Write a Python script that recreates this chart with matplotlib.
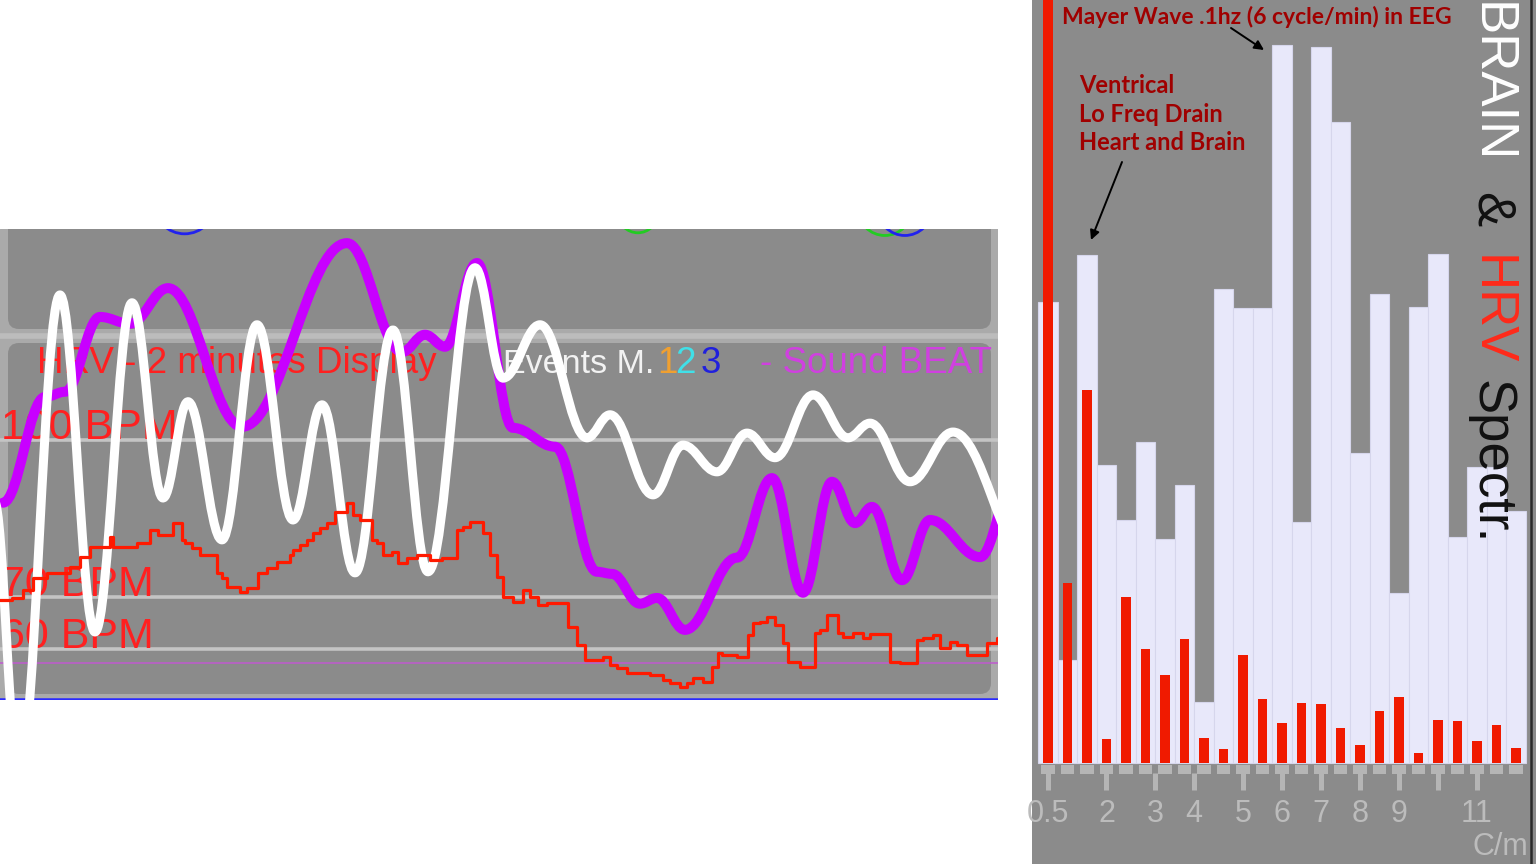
import numpy as np
import matplotlib
matplotlib.use("Agg")
import matplotlib.pyplot as plt
from matplotlib.path import Path
from matplotlib.patches import PathPatch, FancyBboxPatch, Rectangle

plt.rcParams['font.family'] = ['Liberation Sans', 'DejaVu Sans']

# ---------------- HRV panel (time in s over 2 minutes, values in BPM) ----------------
# heart rate staircase (value starts at each time)
hr_t = [0, 1.44, 2.77, 3.97, 5.65, 8.42, 9.62, 10.82, 13.23, 13.59, 16.47, 18.04, 19.00,
        20.80, 21.88, 22.24, 23.09, 24.05, 26.09, 26.69, 27.29, 28.86, 29.70, 31.02, 32.10,
        33.31, 34.87, 35.23, 36.07, 36.91, 37.64, 38.48, 39.32, 40.28, 41.72, 42.44, 43.29,
        44.73, 45.33, 46.05, 47.13, 47.86, 48.94, 50.14, 51.70, 53.15, 54.95, 55.67, 56.51,
        58.08, 58.92, 59.76, 60.48, 61.68, 62.89, 63.73, 64.69, 65.77, 68.30, 69.38, 70.34,
        72.50, 73.35, 74.19, 75.39, 78.16, 79.72, 80.56, 81.76, 82.60, 83.33, 84.53, 85.61,
        86.33, 86.81, 88.62, 89.94, 90.54, 91.38, 92.22, 93.19, 94.15, 94.75, 96.19, 98.00,
        98.60, 99.44, 100.76, 101.36, 102.56, 103.77, 104.61, 107.01, 108.22, 110.26, 110.98,
        112.18, 113.03, 114.23, 115.07, 116.27, 118.68, 119.88]
hr_bpm = [69.4, 69.8, 71.3, 73.6, 74.6, 75.7, 77.6, 79.6, 81.5, 79.6, 80.3, 82.8, 81.8,
          84.1, 80.9, 80.3, 79.4, 78.0, 74.6, 73.6, 71.9, 71.0, 71.7, 74.6, 75.5,
          76.7, 78.0, 79.0, 79.9, 80.9, 82.2, 83.2, 84.1, 86.2, 88.0, 85.7, 84.7,
          80.9, 80.3, 78.0, 78.6, 76.5, 77.5, 78.0, 77.1, 77.5, 82.8, 83.4, 84.3,
          82.2, 78.0, 73.8, 70.0, 69.0, 71.3, 70.0, 68.5, 68.9, 64.3, 60.8, 58.0,
          58.5, 57.0, 56.4, 55.5, 55.1, 54.1, 53.6, 52.8, 53.6, 54.5, 53.8, 56.6,
          59.3, 58.9, 58.5, 62.7, 65.0, 65.2, 66.2, 64.6, 61.2, 57.6, 56.6, 63.1,
          63.7, 66.6, 63.1, 62.4, 63.1, 62.2, 62.9, 57.6, 57.4, 61.8, 62.2,
          62.7, 60.3, 61.4, 60.8, 58.9, 61.2, 62.2]

# white wave (turning points)
wave_t = [-0.72, 2.28, 7.21, 11.42, 15.87, 19.60, 22.60, 26.69, 30.90, 35.23, 38.72, 42.69,
          47.25, 51.46, 57.11, 60.48, 64.93, 70.58, 73.35, 78.52, 82.12, 86.21, 89.82,
          93.19, 97.76, 101.96, 104.61, 109.42, 114.59, 123.85]
wave_v = [88.5, 36.0, 127.7, 63.3, 126.2, 88.9, 107.3, 80.9, 122.0, 84.7, 106.7, 74.6,
          121.0, 74.8, 132.9, 111.8, 122.0, 100.4, 104.8, 89.5, 99.0, 93.9, 101.3,
          96.6, 108.6, 100.4, 103.2, 92.0, 101.5, 77.1]

# sound beat (turning points)
beat_t = [0.36, 5.41, 7.82, 12.02, 15.63, 20.20, 29.10, 41.72, 48.34, 51.10, 53.51, 57.35,
          61.68, 66.73, 71.78, 73.59, 76.95, 79.00, 82.36, 88.62, 92.83, 96.55, 100.04,
          102.81, 104.85, 108.46, 111.82, 117.84, 122.04]
beat_v = [88.0, 108.2, 109.2, 123.5, 122.2, 129.0, 102.5, 137.6, 116.8, 120.1, 117.8, 133.8,
          102.3, 98.7, 74.8, 74.4, 68.7, 69.8, 63.7, 77.5, 92.7, 70.8, 92.0,
          84.1, 87.2, 73.2, 84.7, 77.6, 92.4]

# event markers at the top edge
event_t = [22.2, 69.5, 76.7, 106.4, 108.8]
event_v = [145.3, 144.7, 143.4, 144.2, 144.2]
event_size = [1990, 600, 830, 1500, 1500]
event_col = ['#2222ee', '#2222ee', '#22cc22', '#22cc22', '#2222ee']

bpm_marks = [100, 70, 60]
bpm_labels = ['100 BPM', '70 BPM', '60 BPM']
beat_ref = 57.4

# ---------------- spectrum panel ----------------
spec_bins = np.arange(25)
brain_power = [60.4, 13.5, 66.6, 39.1, 31.8, 42.1, 29.4, 36.4, 8.0, 62.1, 59.6, 59.6, 94.1,
               31.6, 93.8, 84.0, 40.6, 61.5, 22.3, 59.8, 66.7, 29.6, 38.8, 38.8, 33.0]
hrv_power = [130, 23.6, 48.9, 3.1, 21.8, 14.9, 11.5, 16.3, 3.3, 1.8, 14.2, 8.4, 5.2,
             7.9, 7.7, 4.6, 2.4, 6.8, 8.7, 1.3, 5.6, 5.5, 2.9, 5.0, 2.0]
tick_pos = [0, 3, 5.5, 7.5, 10, 12, 14, 16, 18, 20, 22]
tick_lab = ['0.5', '2', '3', '4', '5', '6', '7', '8', '9', '', '11']


def smooth_line(ax, xs, ys, color, lw, z):
    verts = [(xs[0], ys[0])]
    codes = [Path.MOVETO]
    for i in range(len(xs) - 1):
        dx = xs[i + 1] - xs[i]
        verts += [(xs[i] + 0.38 * dx, ys[i]), (xs[i + 1] - 0.38 * dx, ys[i + 1]),
                  (xs[i + 1], ys[i + 1])]
        codes += [Path.CURVE4] * 3
    ax.add_patch(PathPatch(Path(verts, codes), fill=False, edgecolor=color, lw=lw,
                           capstyle='round', joinstyle='round', zorder=z))


fig = plt.figure(figsize=(15.36, 8.64), dpi=100)
fig.patch.set_facecolor('white')

# left panel background (pixel units)
pos_left = [0, 164 / 864, 998 / 1536, 471 / 864]
deco = fig.add_axes(pos_left, zorder=0)
deco.set_xlim(0, 998)
deco.set_ylim(700, 229)
deco.axis('off')
deco.add_patch(Rectangle((0, 229), 998, 471, color='#aaaaaa'))
for y0, y1 in [(190, 329), (343, 694)]:
    deco.add_patch(FancyBboxPatch((8, y0), 983, y1 - y0,
                                  boxstyle='round,pad=0,rounding_size=11',
                                  fc='#8b8b8b', ec='none'))
deco.axhline(336, color='#bcbcbc', lw=4)
deco.axhline(699, color='#2a2aff', lw=1.8)

txt = dict(fontsize=26.5, va='baseline')
deco.text(37, 373, 'HRV - 2 minutes Display', color='#ff2020', **txt)
deco.text(503, 373, 'Events M.', color='#f2f2f2', fontsize=24.5, va='baseline')
deco.text(657, 373, '1', color='#f0a030', **txt)
deco.text(675, 373, '2', color='#40e0e8', **txt)
deco.text(701, 373, '3', color='#2020dd', **txt)
deco.text(760, 373, '- Sound BEAT', color='#d040e0', **txt)

# left panel data
ax = fig.add_axes(pos_left, zorder=1)
ax.set_xlim(0, 120)
ax.set_ylim(50.3, 140.3)
ax.axis('off')
for v, lab in zip(bpm_marks, bpm_labels):
    ax.axhline(v, color='#c4c4c4', lw=2.6, zorder=1)
    ax.text(0.1, v + 0.2, lab, color='#ff2020', fontsize=31, va='baseline', zorder=1)
ax.axhline(beat_ref, color='#c05ad0', lw=1.1, zorder=1)
ax.scatter(event_t, event_v, s=event_size, facecolors='none', edgecolors=event_col,
           linewidths=2, zorder=2)
smooth_line(ax, beat_t, beat_v, '#c800ff', 7.2, 3)
smooth_line(ax, wave_t, wave_v, 'white', 6.5, 4)
ax.step(hr_t + [120], hr_bpm + [hr_bpm[-1]], where='post', color='#ff1a00', lw=2.3, zorder=5)

# right panel: spectrum
ax2 = fig.add_axes([1032 / 1536, 0, 504 / 1536, 1], zorder=1)
ax2.set_facecolor('#8b8b8b')
ax2.set_xlim(-0.82, 25.03)
ax2.set_ylim(-13.24, 100)
ax2.bar(spec_bins, brain_power, width=1.0, color='#e8e8fa', edgecolor='#d6d6ec',
        linewidth=0.8, zorder=2)
ax2.bar(spec_bins, hrv_power, width=0.5, color='#f01a00', zorder=3)
ax2.bar(spec_bins, [-1.2] * len(spec_bins), bottom=-0.25, width=0.68, color='#b5b5b5', zorder=2)
for s in ax2.spines.values():
    s.set_visible(False)
ax2.spines['bottom'].set_position(('data', -1.3))
ax2.set_xticks(tick_pos, tick_lab)
ax2.set_yticks([])
ax2.tick_params(axis='x', length=12, width=3.6, color='#b5b5b5', pad=7,
                labelsize=22, labelcolor='#bcbcbc')
ax2.axvline(24.76, color='#2a2a2a', lw=1.8, zorder=4)

# overlay texts and arrows (pixel units)
ov = fig.add_axes([0, 0, 1, 1], zorder=10)
ov.set_xlim(0, 1536)
ov.set_ylim(864, 0)
ov.axis('off')
ov.text(1472, 855, 'C/m', color='#bcbcbc', fontsize=22, va='baseline')

ann = dict(color='#a00000', fontsize=17, fontweight='bold', family='Lato', va='baseline')
ov.text(1062, 24, 'Mayer Wave .1hz (6 cycle/min) in EEG', **dict(ann, fontsize=16.5))
ov.text(1079, 93, 'Ventrical', **ann)
ov.text(1079, 122, 'Lo Freq Drain', **ann)
ov.text(1079, 150, 'Heart and Brain', **ann)
arr = dict(arrowstyle='-|>', color='black', lw=1.4, mutation_scale=14, shrinkA=0, shrinkB=0)
ov.annotate('', xy=(1264, 50), xytext=(1231, 28), arrowprops=arr)
ov.annotate('', xy=(1091, 240), xytext=(1122, 162), arrowprops=arr)

for word, col, y in [('BRAIN', 'white', 2), ('&', '#111111', 192),
                     ('HRV', '#ff2a1a', 255), ('Spectr.', '#111111', 380)]:
    ov.text(1477, y, word, rotation=-90, rotation_mode='anchor', ha='left',
            va='baseline', fontsize=38, color=col)

fig.savefig('out.png', dpi=100, facecolor='white')
